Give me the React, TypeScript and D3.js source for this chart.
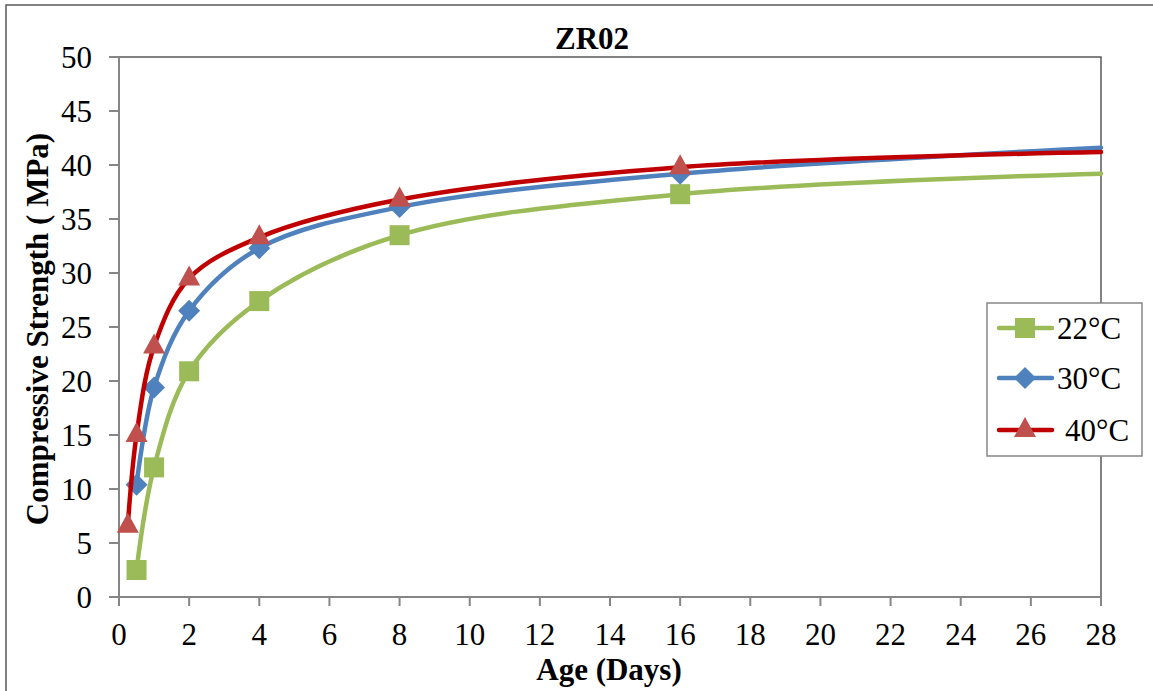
import React from "react";
import * as d3 from "d3";

const days = [0.25, 0.5, 1, 2, 4, 8, 16, 28];
const s22 = [null, 2.5, 12.0, 20.9, 27.4, 33.5, 37.3, 39.2];
const s30 = [null, 10.4, 19.4, 26.5, 32.3, 36.1, 39.2, 41.6];
const s40 = [6.6, 15.0, 23.2, 29.5, 33.3, 36.8, 39.8, 41.2];
const seriesNames = ["22°C", "30°C", "40°C"];
const xTicks = d3.range(0, 29, 2);
const yTicks = d3.range(0, 51, 5);

const W = 1153, H = 691;
const left = 119, right = 1101, top = 57, bottom = 597;
const FONT = "'Liberation Serif', 'Times New Roman', serif";

const series = [
  { name: seriesNames[0], values: s22, line: "#9BBB59", marker: "#9BBB59", shape: "square" },
  { name: seriesNames[1], values: s30, line: "#4F81BD", marker: "#4F81BD", shape: "diamond" },
  { name: seriesNames[2], values: s40, line: "#C00000", marker: "#C0504D", shape: "triangle" },
];

function Marker({ shape, x, y, color }: { shape: string; x: number; y: number; color: string }) {
  if (shape === "square") return <rect x={x - 10} y={y - 10} width={20} height={20} fill={color} />;
  if (shape === "diamond")
    return <path d={`M${x},${y - 11}L${x + 11},${y}L${x},${y + 11}L${x - 11},${y}Z`} fill={color} />;
  return <path d={`M${x},${y - 13}L${x + 11},${y + 7}L${x - 11},${y + 7}Z`} fill={color} />;
}

export default function App() {
  const x = d3.scaleLinear().domain([0, 28]).range([left, right]);
  const y = d3.scaleLinear().domain([0, 50]).range([bottom, top]);
  const line = d3
    .line<[number, number | null]>()
    .defined((d) => d[1] !== null)
    .x((d) => x(d[0]))
    .y((d) => y(d[1] as number))
    .curve(d3.curveCatmullRom.alpha(0.5));

  const legendY = [328, 378, 430];

  return (
    <svg width={W} height={H} style={{ position: "absolute", left: 0, top: 0, background: "#fff" }} fontFamily={FONT}>
      <rect x={0} y={0} width={W} height={H} fill="#fff" />
      <rect x={6} y={5} width={1300} height={900} fill="none" stroke="#595959" strokeWidth={1.5} />
      {/* plot border top/right */}
      <path d={`M${left},${top}H${right}V${bottom}`} fill="none" stroke="#595959" strokeWidth={1.5} />
      {/* axes */}
      <line x1={left} x2={left} y1={top} y2={bottom} stroke="#868686" strokeWidth={2} />
      <line x1={left} x2={right} y1={bottom} y2={bottom} stroke="#868686" strokeWidth={2} />
      {yTicks.map((t) => (
        <g key={"y" + t}>
          <line x1={left - 10} x2={left} y1={y(t)} y2={y(t)} stroke="#868686" strokeWidth={2} />
          <text x={92} y={y(t)} dy="0.35em" textAnchor="end" fontSize={31} fill="#000">
            {t}
          </text>
        </g>
      ))}
      {xTicks.map((t) => (
        <g key={"x" + t}>
          <line x1={x(t)} x2={x(t)} y1={bottom} y2={bottom + 9} stroke="#868686" strokeWidth={2} />
          <text x={x(t)} y={bottom + 48} textAnchor="middle" fontSize={31} fill="#000">
            {t}
          </text>
        </g>
      ))}
      {/* series */}
      {series.map((s) => {
        const pts: [number, number | null][] = days.map((d, i) => [d, s.values[i]]);
        return (
          <g key={s.name}>
            <path d={line(pts) || ""} fill="none" stroke={s.line} strokeWidth={4.5} strokeLinecap="round" />
            {pts
              .filter((p, i) => p[1] !== null && i < days.length - 1)
              .map((p, i) => (
                <Marker key={i} shape={s.shape} x={x(p[0])} y={y(p[1] as number)} color={s.marker} />
              ))}
          </g>
        );
      })}
      {/* titles */}
      <text x={592} y={49} textAnchor="middle" fontSize={31} fontWeight="bold" fill="#000">
        ZR02
      </text>
      <text x={609} y={680} textAnchor="middle" fontSize={31} fontWeight="bold" fill="#000">
        Age (Days)
      </text>
      <text transform="translate(48,329) rotate(-90)" textAnchor="middle" fontSize={31} fontWeight="bold" fill="#000">
        Compressive Strength ( MPa)
      </text>
      {/* legend */}
      <rect x={987} y={303} width={155} height={153} fill="#fff" stroke="#868686" strokeWidth={1.5} />
      {series.map((s, i) => (
        <g key={"lg" + i}>
          <line x1={999} x2={1052} y1={legendY[i]} y2={legendY[i]} stroke={s.line} strokeWidth={4.5} strokeLinecap="round" />
          <Marker shape={s.shape} x={1025} y={legendY[i]} color={s.marker} />
          <text x={i === 2 ? 1065 : 1057} y={legendY[i] + 11} fontSize={31} fill="#000">
            {s.name}
          </text>
        </g>
      ))}
    </svg>
  );
}
